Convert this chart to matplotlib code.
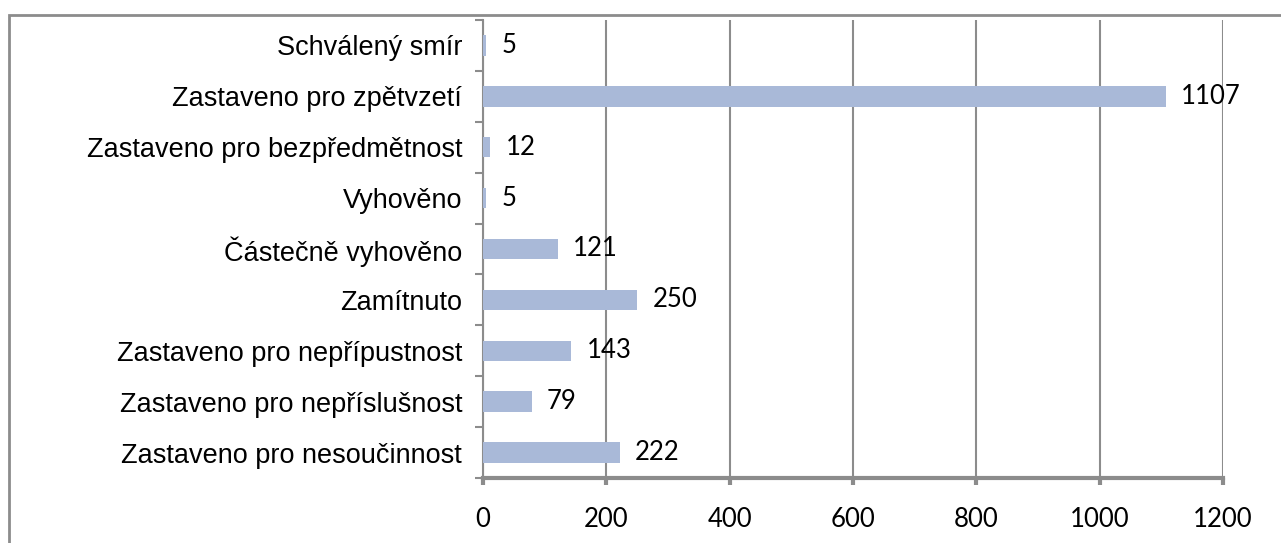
import numpy as np
import matplotlib.pyplot as plt
from matplotlib.patches import Rectangle

categories = [
    "Schválený smír",
    "Zastaveno pro zpětvzetí",
    "Zastaveno pro bezpředmětnost",
    "Vyhověno",
    "Částečně vyhověno",
    "Zamítnuto",
    "Zastaveno pro nepřípustnost",
    "Zastaveno pro nepříslušnost",
    "Zastaveno pro nesoučinnost",
]
values = [5, 1107, 12, 5, 121, 250, 143, 79, 222]
xticks = [0, 200, 400, 600, 800, 1000, 1200]

BAR_COLOR = "#a9b9d8"
GRID_COLOR = "#8c8c8c"
NUM_FONT = ["Liberation Sans Narrow", "Lato"]

fig = plt.figure(figsize=(12.81, 5.43), dpi=100)
ax = fig.add_axes([483 / 1281, 1 - 478 / 543, 740 / 1281, 458 / 543])

# outer chart border (runs off the right/bottom edge like the original)
fig.patches.append(Rectangle((9 / 1281, -0.05), 1.2, 1 - 15 / 543 + 0.05,
                             transform=fig.transFigure, fill=False,
                             edgecolor="#8c8c8c", linewidth=2.0))

y = np.arange(len(categories))[::-1]
ax.barh(y, values, height=0.4, color=BAR_COLOR, zorder=3)

for yi, v in zip(y, values):
    ax.annotate(str(v), (v, yi), xytext=(11, 0), textcoords="offset points",
                va="center", ha="left", fontsize=18.5, family=NUM_FONT, zorder=4)

ax.set_xlim(0, 1200)
ax.set_ylim(-0.5, len(categories) - 0.5)
ax.set_xticks(xticks)
ax.set_xticklabels([str(t) for t in xticks], fontsize=18.5, family=NUM_FONT)
ax.tick_params(axis="x", length=5, width=3, color=GRID_COLOR, pad=16)

ax.set_yticks(y)
ax.set_yticklabels(categories, fontsize=19.5, family="Liberation Sans")
ax.tick_params(axis="y", which="major", length=0, pad=15)
ax.set_yticks(np.arange(len(categories) + 1) - 0.5, minor=True)
ax.tick_params(axis="y", which="minor", length=6, width=1.5, color=GRID_COLOR)

ax.grid(axis="x", color=GRID_COLOR, linewidth=1.5, zorder=0)
ax.set_axisbelow(True)

for side in ["top", "right"]:
    ax.spines[side].set_visible(False)
ax.spines["left"].set_color(GRID_COLOR)
ax.spines["left"].set_linewidth(1.5)
ax.spines["bottom"].set_color(GRID_COLOR)
ax.spines["bottom"].set_linewidth(3)

fig.savefig("out.png", dpi=100)
